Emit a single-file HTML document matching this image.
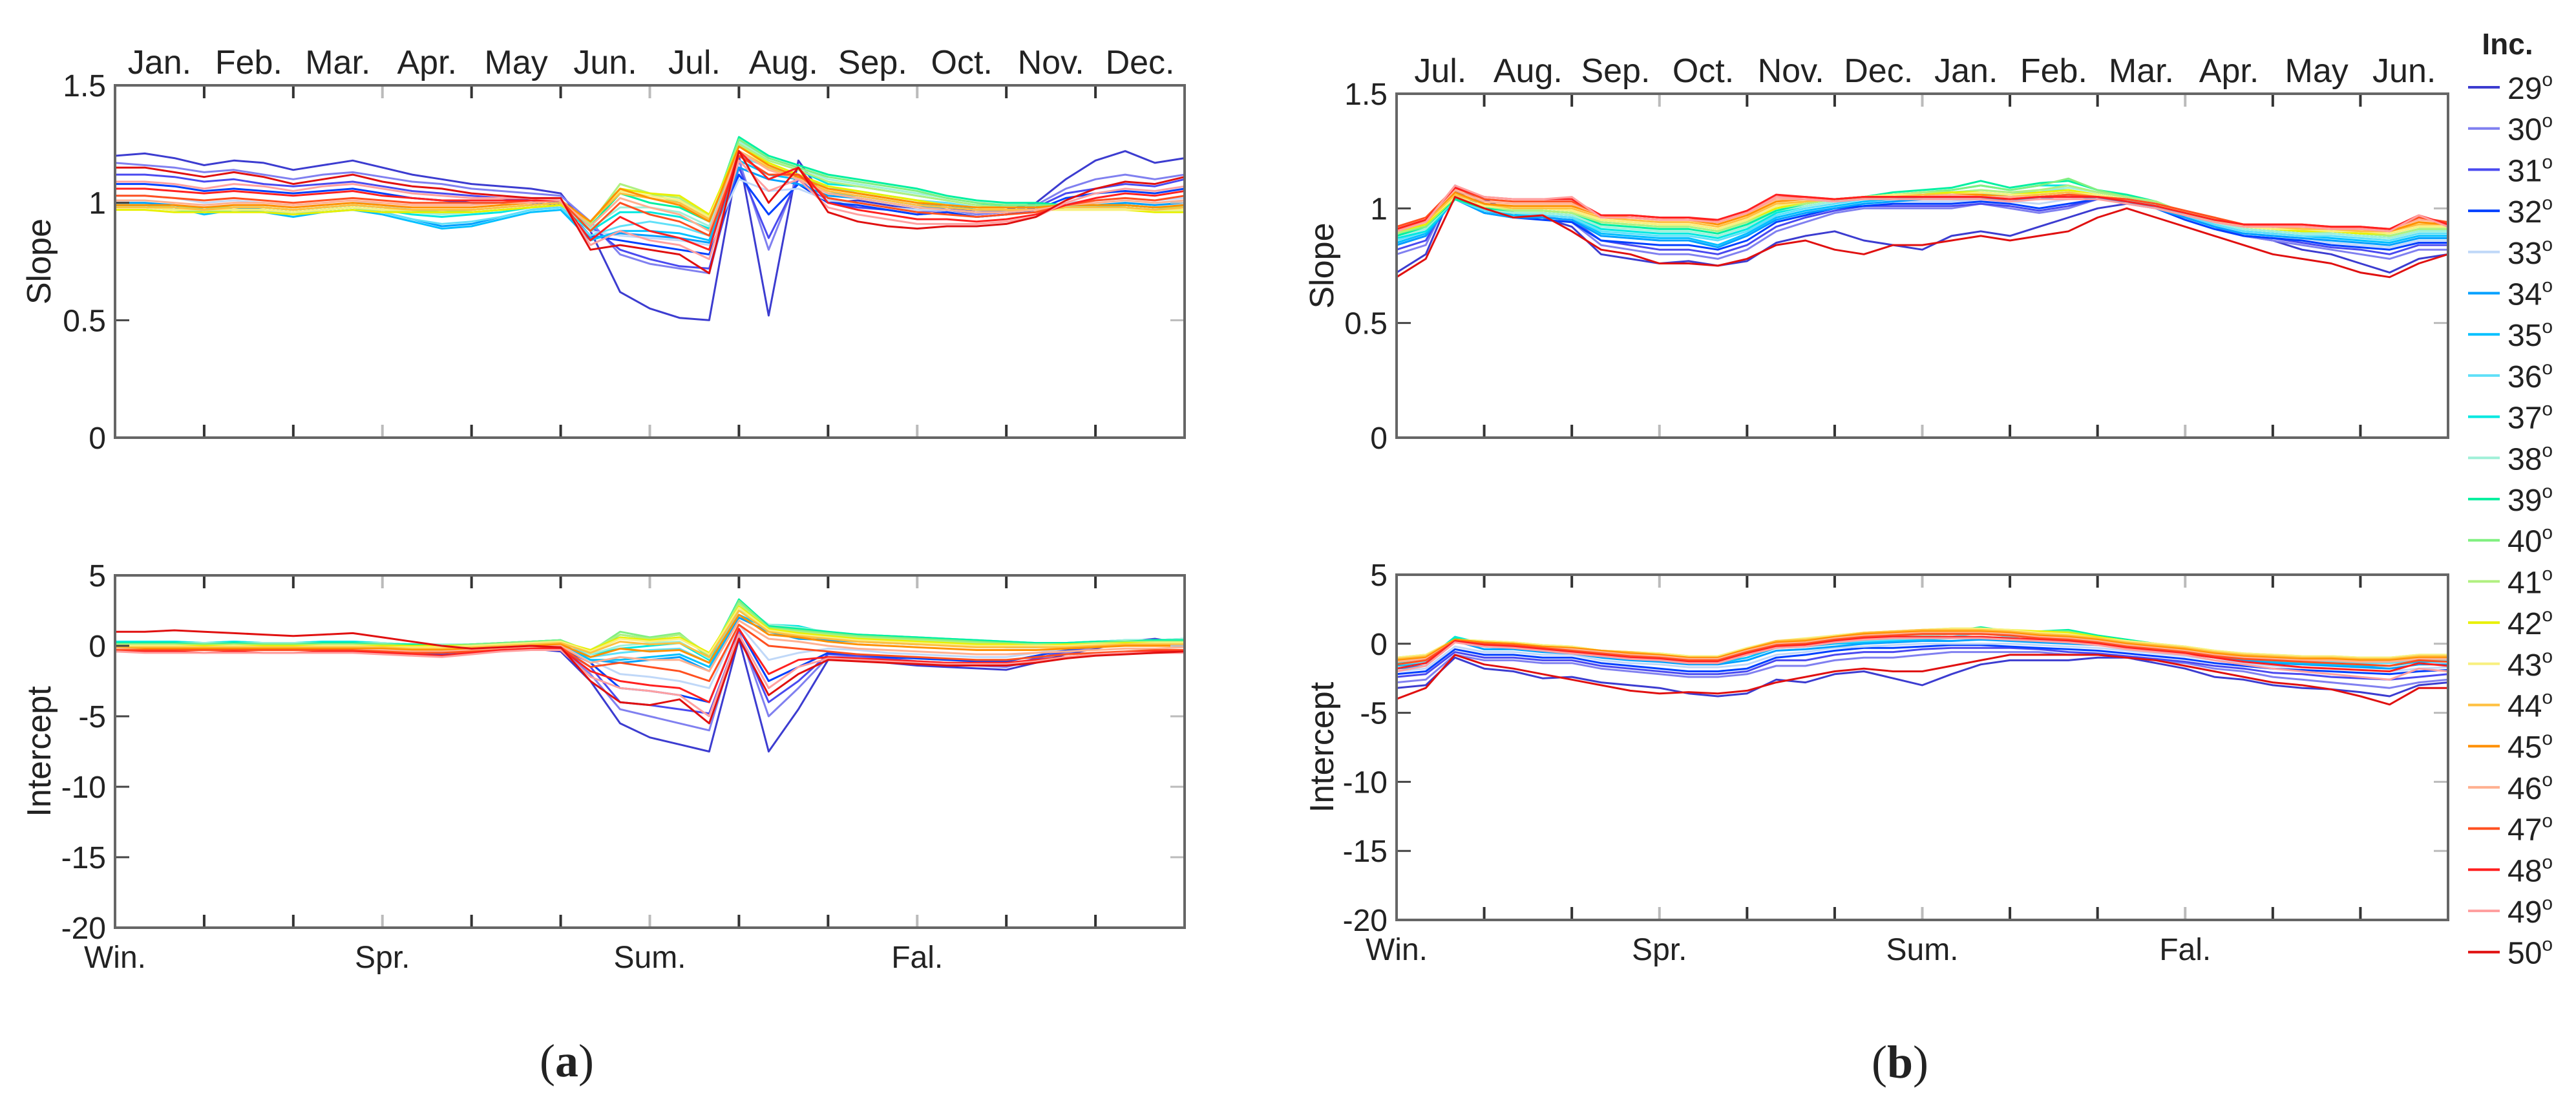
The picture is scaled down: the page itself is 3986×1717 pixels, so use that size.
<!DOCTYPE html>
<html><head><meta charset="utf-8"><style>
html,body{margin:0;padding:0;background:#fff}
svg{display:block}
text{font-family:"Liberation Sans",Arial,sans-serif;fill:#222}
</style></head><body>
<svg id="fig" width="3986" height="1717" viewBox="0 0 3986 1717" xmlns="http://www.w3.org/2000/svg"></svg>
<script>
const incl=[29,30,31,32,33,34,35,36,37,38,39,40,41,42,43,44,45,46,47,48,49,50];
const colors=["#3c3cd0","#8080f0","#4a4af0","#0040ff","#c0d8f8","#00a0ff","#00c0ff","#60e0f8","#00e8e0","#a0f0d8","#00f0a0","#80f080","#b0f080","#e8f000","#f8f080","#ffc040","#ff9000","#ffb090","#ff5020","#ff2020","#ffa0a0","#e01010"];
const monthsA=["Jan.","Feb.","Mar.","Apr.","May","Jun.","Jul.","Aug.","Sep.","Oct.","Nov.","Dec."];
const monthsB=["Jul.","Aug.","Sep.","Oct.","Nov.","Dec.","Jan.","Feb.","Mar.","Apr.","May","Jun."];
const seasons=["Win.","Spr.","Sum.","Fal."];
const slopeTicks=[0,0.5,1,1.5];
const slopeTickLabels=["0","0.5","1","1.5"];
const intTicks=[-20,-15,-10,-5,0,5];
const intTickLabels=["-20","-15","-10","-5","0","5"];
// slope x100, panel (a)
const slopeA=[
[120,121,119,116,118,117,114,116,118,115,112,110,108,107,106,104,88,62,55,51,50,120,52,118,100,101,99,97,98,96,97,100,110,118,122,117,119],
[117,116,115,113,114,112,110,112,113,111,109,108,106,105,104,103,92,78,74,72,70,118,80,112,102,100,98,96,97,95,96,99,106,110,112,110,112],
[112,112,111,109,110,108,107,108,109,107,105,104,103,102,101,100,90,80,76,73,72,115,85,110,100,98,97,95,96,94,95,98,104,106,108,107,110],
[108,108,107,105,106,105,104,105,106,104,102,101,100,100,100,99,86,84,82,80,78,112,95,108,100,99,97,95,96,94,95,97,102,104,105,104,106],
[103,103,102,100,101,100,99,100,101,99,97,96,96,97,98,98,88,86,85,84,82,110,105,106,101,100,98,97,97,96,96,97,100,101,102,101,102],
[100,100,99,97,98,97,96,97,98,96,93,90,91,94,97,98,85,87,86,85,83,115,110,108,103,102,100,98,98,97,97,97,99,99,100,99,100],
[99,99,98,95,97,96,94,96,97,95,92,89,90,93,96,97,84,88,88,87,84,118,112,110,104,103,101,99,99,97,97,97,98,98,99,98,98],
[99,99,98,96,97,97,95,97,98,96,93,91,92,94,97,98,86,90,92,90,86,120,115,112,106,105,103,101,100,98,98,98,98,98,98,97,97],
[98,98,97,96,97,97,96,97,98,97,95,94,95,96,98,99,88,96,96,94,89,125,118,114,108,107,105,103,101,99,99,99,98,98,98,97,97],
[98,98,98,97,97,97,96,97,98,97,96,95,96,97,98,99,89,98,98,96,90,126,119,115,110,108,106,104,102,100,99,99,99,99,99,98,98],
[99,99,98,97,98,98,97,98,99,98,97,96,97,98,99,100,90,104,100,98,92,128,120,116,112,110,108,106,103,101,100,100,99,99,99,98,98],
[99,99,98,98,98,98,97,98,99,98,97,97,97,98,99,100,91,108,104,100,93,127,119,115,111,109,107,105,102,100,99,99,99,99,99,98,98],
[98,98,97,97,97,97,96,97,98,97,96,96,96,97,98,99,91,108,104,102,94,125,118,114,109,107,105,103,101,99,98,98,98,98,98,97,97],
[97,97,96,96,96,96,95,96,97,96,96,96,96,97,98,99,92,106,104,103,95,124,117,112,107,105,103,101,99,98,97,97,97,97,97,96,96],
[98,98,97,97,97,97,96,97,98,97,97,97,97,98,99,100,92,105,103,101,94,122,116,111,106,104,102,100,99,98,97,97,97,97,97,97,97],
[98,98,98,97,98,98,97,98,99,98,97,97,97,98,99,100,92,104,102,100,93,122,115,110,105,103,101,99,98,97,97,97,98,98,98,97,98],
[99,99,99,98,99,99,98,99,100,99,98,98,98,99,100,101,92,106,102,99,92,124,116,111,106,104,102,100,99,98,98,98,99,99,99,98,99],
[101,101,100,99,100,100,99,100,101,100,99,99,99,100,100,101,90,102,98,95,88,122,114,110,104,102,100,98,97,96,96,97,99,100,101,100,101],
[103,103,102,101,102,101,100,101,102,101,100,100,100,100,101,101,88,100,95,92,86,120,112,112,102,100,98,96,95,94,95,96,99,101,102,101,103],
[106,106,105,104,105,104,103,104,105,103,102,101,101,101,101,101,84,94,88,85,80,122,110,115,100,97,95,93,93,92,93,95,99,102,104,103,105],
[109,109,108,106,108,107,105,107,108,106,104,103,102,102,102,101,82,88,84,82,76,118,105,110,98,95,93,91,91,91,92,94,100,104,106,105,107],
[115,115,113,111,113,111,108,110,112,109,107,106,104,103,102,102,80,82,80,78,70,122,100,115,96,92,90,89,90,90,91,94,101,106,109,108,111]];
// intercept x10, panel (a)
const interA=[
[-2,-2,-1,-2,-2,-3,-3,-2,-2,-4,-5,-6,-4,-3,-2,-4,-25,-55,-65,-70,-75,5,-75,-45,-10,-10,-12,-14,-15,-16,-17,-12,-6,-2,3,5,2],
[-1,-1,-1,-2,-2,-2,-3,-2,-2,-3,-4,-5,-4,-3,-2,-3,-20,-45,-50,-55,-60,10,-50,-30,-8,-8,-10,-12,-13,-14,-15,-10,-5,-1,2,4,2],
[-1,0,0,-1,-1,-2,-2,-1,-1,-2,-3,-4,-3,-2,-1,-2,-15,-40,-42,-45,-48,8,-40,-25,-6,-7,-9,-11,-12,-13,-14,-9,-4,0,2,3,1],
[0,0,1,0,0,-1,-1,0,0,-1,-2,-3,-2,-1,0,-1,-12,-30,-32,-35,-40,12,-25,-15,-5,-6,-8,-9,-10,-11,-11,-7,-3,0,2,3,1],
[1,1,1,0,1,0,0,1,1,0,-1,-2,-1,0,1,0,-10,-20,-22,-25,-30,15,-10,-5,-2,-3,-5,-6,-7,-8,-8,-5,-2,1,2,3,2],
[2,2,2,1,2,1,1,2,2,1,0,-1,0,1,2,2,-10,-12,-10,-8,-18,20,10,5,4,3,2,1,1,0,-1,-1,0,1,2,3,3],
[2,2,2,1,2,1,1,2,2,1,0,-1,0,1,2,2,-10,-10,-8,-6,-15,22,12,8,6,5,4,3,2,1,0,0,1,2,3,3,4],
[2,3,3,2,3,2,2,3,3,2,1,0,1,2,3,4,-8,-5,-3,-2,-12,25,14,12,8,7,6,5,4,3,2,1,2,3,4,4,5],
[3,3,3,2,3,2,2,3,3,2,1,0,1,2,3,4,-6,-2,0,2,-10,30,15,14,9,8,7,6,5,4,3,2,2,3,4,4,5],
[2,2,2,2,2,2,2,2,2,2,1,1,1,2,3,4,-6,0,2,3,-9,31,15,13,10,8,7,6,5,4,3,2,2,3,4,4,5],
[2,2,2,1,2,1,1,2,2,1,1,0,1,2,3,4,-5,8,5,8,-8,33,14,12,10,8,7,6,5,4,3,2,2,3,3,4,4],
[1,1,1,1,1,1,1,1,1,1,0,0,1,2,3,4,-4,10,6,9,-8,32,13,11,9,7,6,5,4,3,2,1,1,2,3,3,3],
[1,1,1,0,1,0,0,1,1,0,0,0,0,1,2,3,-3,8,5,8,-6,30,12,10,8,6,5,4,3,2,1,1,1,2,2,3,3],
[0,0,0,0,0,0,0,0,0,0,0,0,0,1,2,3,-3,6,4,6,-5,28,12,9,7,5,4,3,2,1,1,0,1,1,2,2,2],
[0,0,0,-1,0,-1,-1,0,0,-1,-1,-1,0,1,2,3,-4,5,3,5,-6,27,11,8,6,4,3,2,1,0,0,0,0,1,1,2,2],
[-1,-1,-1,-1,-1,-1,-1,-1,-1,-1,-2,-2,-1,0,1,2,-5,3,1,2,-8,25,10,7,5,3,2,1,0,-1,-1,-1,-1,0,1,1,1],
[-2,-2,-2,-2,-2,-2,-2,-2,-2,-2,-3,-3,-2,-1,0,1,-8,-2,-4,-3,-12,22,8,6,3,1,0,-1,-2,-3,-3,-3,-2,-1,0,0,0],
[-2,-3,-3,-3,-3,-3,-3,-3,-3,-3,-4,-4,-3,-2,-1,0,-12,-8,-10,-10,-18,18,5,3,0,-2,-3,-4,-5,-6,-6,-5,-4,-3,-2,-2,-1],
[-3,-3,-3,-3,-3,-3,-3,-3,-3,-4,-5,-5,-4,-3,-2,-1,-15,-12,-15,-18,-25,15,0,-2,-4,-6,-7,-8,-9,-10,-10,-8,-6,-5,-4,-3,-3],
[-4,-4,-4,-5,-4,-5,-5,-4,-4,-5,-6,-7,-5,-3,-2,-2,-18,-25,-28,-30,-40,12,-20,-10,-8,-9,-10,-11,-12,-12,-12,-10,-8,-6,-5,-4,-4],
[-4,-5,-5,-5,-5,-5,-5,-5,-5,-6,-7,-8,-6,-4,-3,-3,-22,-30,-32,-35,-50,8,-30,-15,-9,-10,-11,-12,-13,-13,-13,-11,-8,-6,-5,-5,-5],
[10,10,11,10,9,8,7,8,9,6,3,0,-2,-1,0,-1,-25,-40,-42,-38,-55,5,-35,-20,-10,-11,-12,-13,-14,-14,-14,-12,-9,-7,-6,-5,-4]];
// slope x100, panel (b)
const slopeB=[
[72,80,110,104,98,96,92,80,78,76,77,75,77,85,88,90,86,84,82,88,90,88,92,96,100,102,100,96,92,88,86,82,80,76,72,78,80],
[80,84,110,102,98,97,94,84,82,80,80,78,82,90,94,98,100,100,100,100,102,100,98,100,104,104,102,96,92,88,86,84,82,80,78,82,82],
[82,86,108,100,97,96,95,86,84,82,82,80,84,92,96,99,101,101,101,101,102,101,99,101,104,104,102,96,92,88,87,85,83,82,80,84,84],
[84,88,106,98,96,95,94,86,85,84,84,82,86,94,97,100,101,102,102,102,103,102,100,102,104,104,100,95,91,88,87,86,84,83,82,85,85],
[85,89,106,99,97,96,95,88,87,86,86,84,88,95,98,101,102,103,103,103,104,103,102,104,105,104,100,96,92,89,88,87,85,84,83,86,86],
[84,88,104,98,96,96,95,88,87,86,86,83,88,95,98,100,102,103,104,104,104,104,104,106,104,103,100,96,92,89,88,87,86,85,84,87,87],
[85,89,104,99,97,97,96,89,88,87,87,84,89,96,99,101,103,104,105,105,105,105,106,107,105,104,101,97,93,90,89,88,87,86,85,88,88],
[86,90,104,99,98,97,96,90,89,88,88,86,90,97,100,102,104,105,105,106,106,106,108,108,106,104,101,97,93,90,89,88,88,87,86,89,89],
[87,90,104,100,98,98,97,91,90,89,89,87,91,98,101,103,105,106,107,108,110,108,110,110,107,105,102,98,94,91,90,89,89,88,87,90,90],
[88,91,104,100,98,98,97,92,91,90,90,88,92,99,101,103,105,106,106,107,108,107,108,109,107,105,102,98,94,91,90,89,89,88,87,90,90],
[88,92,104,100,99,99,98,93,92,91,91,89,93,99,102,104,105,107,108,109,112,109,111,112,108,106,103,98,95,92,91,90,90,89,88,91,91],
[89,92,105,101,99,99,98,94,93,92,92,90,94,100,102,104,105,106,107,108,110,108,110,113,108,105,103,98,95,92,91,90,90,89,88,91,91],
[89,93,105,101,99,99,98,94,93,92,92,90,94,100,102,104,105,106,107,107,108,107,108,110,107,105,103,98,95,92,91,90,90,89,88,91,91],
[90,93,105,101,100,100,99,95,94,93,93,91,95,100,103,104,105,106,106,107,107,106,107,108,106,104,102,98,95,92,91,90,90,89,89,92,92],
[90,94,105,101,100,100,99,95,94,93,93,91,95,101,103,104,105,106,106,106,107,106,106,107,106,104,102,98,95,92,91,91,90,90,89,92,92],
[91,94,106,102,100,100,100,96,95,94,94,92,96,102,103,104,105,105,106,106,106,105,106,107,105,104,102,99,96,93,92,91,91,90,90,93,93],
[91,95,107,102,101,101,101,97,96,95,95,93,97,103,104,104,105,105,105,106,106,105,105,106,105,104,102,99,96,93,92,92,91,91,90,94,93],
[92,95,108,103,102,102,102,97,97,96,95,94,98,104,104,104,105,105,105,106,105,105,105,106,105,104,102,99,96,93,92,92,92,91,91,95,94],
[92,96,109,104,103,103,103,97,97,96,96,94,98,105,105,104,105,105,105,105,105,104,105,106,105,104,102,99,96,93,93,93,92,92,91,96,94],
[91,95,109,105,104,104,104,97,97,96,96,95,99,106,105,104,105,105,105,105,105,104,105,105,105,103,101,98,95,93,93,93,92,92,91,97,93],
[90,94,110,105,104,104,105,96,96,95,95,94,98,105,104,103,104,104,104,104,104,103,104,104,104,102,100,97,94,92,92,92,91,91,90,97,92],
[70,78,105,100,96,97,90,82,80,76,76,75,78,84,86,82,80,84,84,86,88,86,88,90,96,100,96,92,88,84,80,78,76,72,70,76,80]];
// intercept x10, panel (b)
const interB=[
[-32,-30,-10,-18,-20,-25,-24,-28,-30,-32,-36,-38,-36,-26,-28,-22,-20,-25,-30,-22,-15,-12,-12,-12,-10,-10,-14,-18,-24,-26,-30,-32,-33,-35,-38,-30,-28],
[-28,-26,-8,-12,-12,-14,-14,-18,-20,-22,-24,-24,-22,-16,-16,-12,-10,-10,-8,-6,-6,-6,-6,-8,-8,-10,-12,-14,-18,-20,-24,-26,-28,-30,-32,-28,-26],
[-24,-22,-6,-10,-10,-12,-12,-16,-18,-20,-22,-22,-20,-12,-12,-8,-6,-6,-4,-3,-3,-3,-4,-6,-7,-9,-11,-13,-16,-18,-21,-22,-24,-25,-26,-24,-22],
[-22,-20,-4,-8,-8,-10,-10,-14,-16,-18,-20,-20,-18,-10,-8,-5,-3,-3,-2,-1,-1,-2,-3,-4,-5,-7,-9,-11,-14,-16,-18,-19,-20,-21,-22,-20,-19],
[-20,-18,-2,-6,-6,-8,-8,-12,-14,-15,-17,-17,-15,-8,-6,-3,-2,-1,0,0,0,0,-1,-2,-3,-5,-7,-9,-12,-14,-16,-17,-18,-19,-20,-18,-17],
[-18,-16,2,-4,-4,-6,-7,-10,-12,-13,-15,-15,-12,-5,-4,-2,0,1,2,2,3,2,1,0,-1,-3,-5,-7,-10,-12,-14,-15,-16,-17,-18,-15,-15],
[-16,-14,4,-2,-3,-5,-6,-9,-11,-12,-14,-14,-10,-3,-2,0,1,2,3,4,5,4,3,2,0,-2,-4,-6,-9,-11,-13,-14,-15,-16,-16,-13,-13],
[-15,-13,5,-1,-2,-4,-5,-8,-10,-11,-13,-13,-8,-2,-1,1,2,3,4,5,8,5,6,5,2,0,-3,-5,-8,-10,-12,-13,-13,-14,-14,-12,-12],
[-14,-12,5,0,-1,-3,-4,-7,-9,-10,-12,-12,-7,-1,0,2,3,4,6,7,11,7,8,8,4,1,-2,-4,-7,-9,-11,-11,-12,-12,-12,-10,-10],
[-13,-11,4,0,-1,-3,-4,-7,-8,-9,-11,-11,-6,0,1,3,4,5,6,7,9,7,8,8,4,1,-2,-4,-7,-9,-10,-11,-11,-12,-12,-10,-10],
[-12,-10,4,1,0,-2,-3,-6,-8,-9,-11,-11,-5,0,2,4,5,6,8,9,12,9,9,10,6,3,0,-3,-6,-8,-9,-10,-10,-11,-11,-9,-9],
[-11,-9,3,1,0,-2,-3,-6,-7,-8,-10,-10,-5,1,2,4,6,7,8,10,11,9,9,9,5,2,0,-3,-6,-8,-9,-10,-10,-11,-11,-9,-9],
[-11,-9,3,1,0,-2,-3,-5,-7,-8,-10,-10,-4,1,3,5,7,8,9,10,11,9,9,8,5,2,0,-3,-6,-8,-9,-10,-10,-11,-11,-9,-9],
[-10,-8,3,2,1,-1,-2,-5,-6,-7,-9,-9,-4,2,3,6,8,9,10,11,11,10,9,8,5,2,0,-2,-5,-7,-8,-9,-9,-10,-10,-8,-8],
[-10,-8,3,2,1,-1,-2,-5,-6,-7,-9,-9,-3,2,4,6,8,9,10,11,11,10,8,7,4,2,0,-2,-5,-7,-8,-9,-9,-10,-10,-8,-8],
[-11,-9,3,1,0,-2,-3,-5,-6,-8,-10,-10,-4,2,3,5,8,9,10,10,10,9,7,6,4,1,-1,-3,-6,-8,-9,-10,-10,-11,-11,-9,-9],
[-12,-10,3,1,0,-2,-3,-5,-7,-8,-10,-10,-4,1,2,5,7,8,9,9,9,8,6,5,3,0,-2,-4,-7,-9,-10,-11,-11,-12,-12,-10,-10],
[-13,-11,2,0,-1,-3,-4,-6,-8,-9,-11,-11,-5,0,1,4,6,7,8,8,8,7,5,4,2,-1,-3,-5,-8,-10,-11,-12,-12,-13,-13,-11,-11],
[-15,-12,2,0,-1,-3,-5,-7,-9,-10,-12,-12,-6,-1,0,3,5,6,7,7,7,6,4,3,1,-2,-4,-6,-9,-11,-12,-13,-14,-15,-16,-12,-13],
[-18,-14,2,-1,-2,-4,-6,-8,-10,-11,-13,-13,-7,-2,-1,2,4,5,5,5,5,4,3,2,0,-3,-5,-7,-10,-13,-15,-17,-18,-19,-20,-14,-16],
[-20,-16,1,-2,-3,-5,-7,-9,-11,-12,-14,-14,-8,-3,-2,1,3,4,4,4,4,3,2,1,-1,-4,-6,-8,-12,-15,-18,-20,-22,-24,-26,-18,-20],
[-40,-32,-8,-15,-18,-22,-26,-30,-34,-36,-35,-36,-34,-28,-24,-20,-18,-20,-20,-16,-12,-8,-8,-8,-8,-10,-12,-16,-20,-24,-28,-30,-33,-38,-44,-32,-32]];

const NS="http://www.w3.org/2000/svg";
const svg=document.getElementById('fig');
function mk(tag,attrs,parent){const e=document.createElementNS(NS,tag);for(const k in attrs)e.setAttribute(k,attrs[k]);(parent||svg).appendChild(e);return e;}
function txt(s,attrs,parent){const e=mk('text',attrs,parent);e.textContent=s;return e;}

function axes(g,box,ymin,ymax,ticks,tickLabels,months,showSeasons,ylabel,ylabelX){
  const {l,r,t,b}=box;
  const xs=i=>l+(r-l)*i/12;
  const ys=v=>b-(b-t)*(v-ymin)/(ymax-ymin);
  // month ticks
  for(let i=1;i<12;i++){
    const c=(i%3===0)?'#bbb':'#333';
    const tk1=mk('line',{x1:xs(i),x2:xs(i),y1:t,y2:t+20,stroke:c,'stroke-width':4},g);
    
    
    const tk2=mk('line',{x1:xs(i),x2:xs(i),y1:b,y2:b-20,stroke:c,'stroke-width':4},g);
    
    
  }
  ticks.forEach((v,k)=>{
    const y=ys(v);
    if(k>0&&k<ticks.length-1){
      const c1=mk('line',{x1:l,x2:l+22,y1:y,y2:y,stroke:'#444','stroke-width':3},g);
      
      
      const c2=mk('line',{x1:r,x2:r-22,y1:y,y2:y,stroke:'#bbb','stroke-width':3},g);
      
      
    }
    const tl=txt(tickLabels[k],{x:l-14,y:y+17,'text-anchor':'end','font-size':48},g);
    
    
  });
  const fr=mk('rect',{x:l,y:t,width:r-l,height:b-t,fill:'none',stroke:'#666','stroke-width':4},g);
  
  
  if(months){
    months.forEach((m,i)=>{
      const ml=txt(m,{x:(xs(i)+xs(i+1))/2,y:t-18,'text-anchor':'middle','font-size':52},g);
      
      
    });
  }
  if(showSeasons){
    seasons.forEach((s,k)=>{
      const sl=txt(s,{x:xs(k*3),y:b+62,'text-anchor':'middle','font-size':48},g);
      
      
    });
  }
  const yl=txt(ylabel,{x:0,y:0,'text-anchor':'middle','font-size':52,transform:`translate(${ylabelX},${(t+b)/2}) rotate(-90)`},g);
  
  
  return {xs,ys};
}

function series(g,box,ymin,ymax,data,scale){
  const {l,r,t,b}=box;
  const n=data[0].length;
  const xs=i=>l+(r-l)*i/(n-1);
  const ys=v=>b-(b-t)*(v/scale-ymin)/(ymax-ymin);
  data.forEach((arr,s)=>{
    const d=arr.map((v,i)=>(i?'L':'M')+xs(i).toFixed(1)+','+ys(v).toFixed(1)).join('');
    const p=mk('path',{d,fill:'none',stroke:colors[s],'stroke-width':3,'stroke-linejoin':'round'},g);
    
    
  });
}

function panel(name,boxS,boxI,months,sData,iData,ylabX){
  const g=mk('g',{});
  
  
  const gs=mk('g',{},g);
  
  
  series(gs,boxS,0,1.5,sData,100);
  axes(gs,boxS,0,1.5,slopeTicks,slopeTickLabels,months,false,'Slope',ylabX);
  const gi=mk('g',{},g);
  
  
  series(gi,boxI,-20,5,iData,10);
  axes(gi,boxI,-20,5,intTicks,intTickLabels,null,true,'Intercept',ylabX);
}

panel('panel-a',{l:178,r:1833,t:132,b:677},{l:178,r:1833,t:890,b:1435},monthsA,slopeA,interA,78);
panel('panel-b',{l:2161,r:3788,t:145,b:677},{l:2161,r:3788,t:889,b:1423},monthsB,slopeB,interB,2063);

const ca=txt('',{x:877,y:1665,'text-anchor':'middle','font-size':72,style:'font-family:"Liberation Serif",serif'});
ca.innerHTML='(<tspan font-weight="bold">a</tspan>)';


const cb=txt('',{x:2940,y:1667,'text-anchor':'middle','font-size':72,style:'font-family:"Liberation Serif",serif'});
cb.innerHTML='(<tspan font-weight="bold">b</tspan>)';



// legend
const lg=mk('g',{});


const lt=txt('Inc.',{x:3880,y:84,'text-anchor':'middle','font-size':46,'font-weight':'bold'},lg);


incl.forEach((v,k)=>{
  const y=135+63.7*k;
  const e=mk('g',{},lg);
  
  
  mk('line',{x1:3819,x2:3868,y1:y,y2:y,stroke:colors[k],'stroke-width':4},e);
  const t=txt('',{x:3880,y:y+18,'font-size':48},e);
  t.innerHTML=v+'<tspan dy="-20" font-size="30">o</tspan>';
});
</script>
</body></html>
